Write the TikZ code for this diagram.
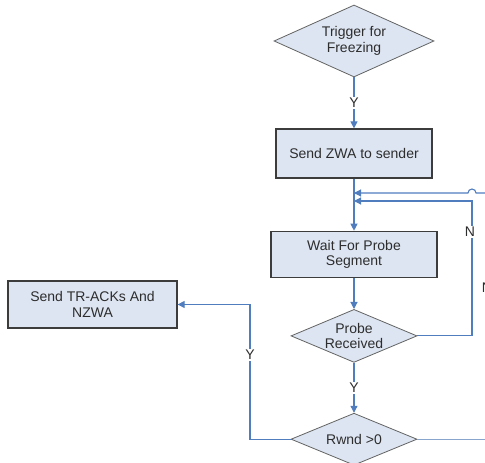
\documentclass[tikz,border=0pt]{standalone}
\usepackage{fontspec}
\setmainfont{Liberation Sans}
\usetikzlibrary{positioning,shapes.geometric,arrows.meta}
\definecolor{boxfill}{RGB}{221,229,242}
\definecolor{flowblue}{RGB}{79,125,190}
\definecolor{backblue}{RGB}{135,165,205}
\definecolor{edgegray}{RGB}{60,60,60}
\definecolor{textgray}{RGB}{45,45,45}

\begin{document}
\begin{tikzpicture}[x=1pt,y=1pt,
        font=\fontsize{14}{15.5}\selectfont, text=textgray,
        procbox/.style={rectangle, draw=edgegray, line width=1.3pt, fill=boxfill, align=center},
        decision/.style={diamond, draw=edgegray!80, line width=0.8pt, fill=boxfill, align=center, inner sep=0pt},
        flowarrow/.style={draw=flowblue, line width=1.1pt, -{Triangle[length=7pt,width=7pt]}},
        backline/.style={draw=backblue, line width=1.1pt},
        yesno/.style={fill=white, inner sep=1pt}]
        \useasboundingbox (0,0) rectangle (485,463);
        \clip (0,0) rectangle (485,463);
        % main column
        \node[decision, aspect=2.2, minimum width=160pt, minimum height=72pt] (trigger) at (354,422) {Trigger for\\Freezing};
        \node[procbox, minimum width=156pt, minimum height=49pt] (sendzwa) [below=51pt of trigger] {Send ZWA to sender};
        \node[procbox, minimum width=166pt, minimum height=46pt] (waitprobe) [below=52pt of sendzwa] {Wait For Probe\\Segment};
        \node[decision, aspect=2.4, minimum width=126pt, minimum height=53pt] (probe) [below=31pt of waitprobe] {Probe\\Received};
        \node[decision, aspect=2.4, minimum width=126pt, minimum height=52pt] (rwnd) [below=50pt of probe] {Rwnd >0};
        \node[procbox, minimum width=169pt, minimum height=47pt] (sendtr) at (92.5,158.5) {Send TR-ACKs And\\NZWA};
        % helper points
        \coordinate (joinA) at (354,270);
        \coordinate (joinB) at (354,262);
        \coordinate (offA) at (490,270);
        \coordinate (offB) at (490,27);
        \coordinate (turnN) at (472,262);
        \coordinate (turnY) at (250,158.5);
        % connectors
        \draw[flowarrow] (trigger.south) -- node[yesno] {Y} (sendzwa.north);
        \draw[flowarrow] (sendzwa.south) -- (waitprobe.north);
        \draw[flowarrow] (waitprobe.south) -- (probe.north);
        \draw[flowarrow] (probe.south) -- node[yesno] {Y} (rwnd.north);
        \draw[backline, flowarrow] (offA) -- (476,270) arc[start angle=0, end angle=180, radius=4] -- (joinA);
        \draw[backline, flowarrow] (probe.east) -| (turnN) -- (joinB);
        \draw[flowarrow] (rwnd.west) -| (turnY) -- (sendtr.east);
        \draw[backline] (rwnd.east) -- (rwnd.east -| offB);
        \node[yesno] (labN) at (470,231) {N};
        \node[yesno] (labY) at (250,108) {Y};
        \node (labNcut) at (487,175) {N};
\end{tikzpicture}
\end{document}
